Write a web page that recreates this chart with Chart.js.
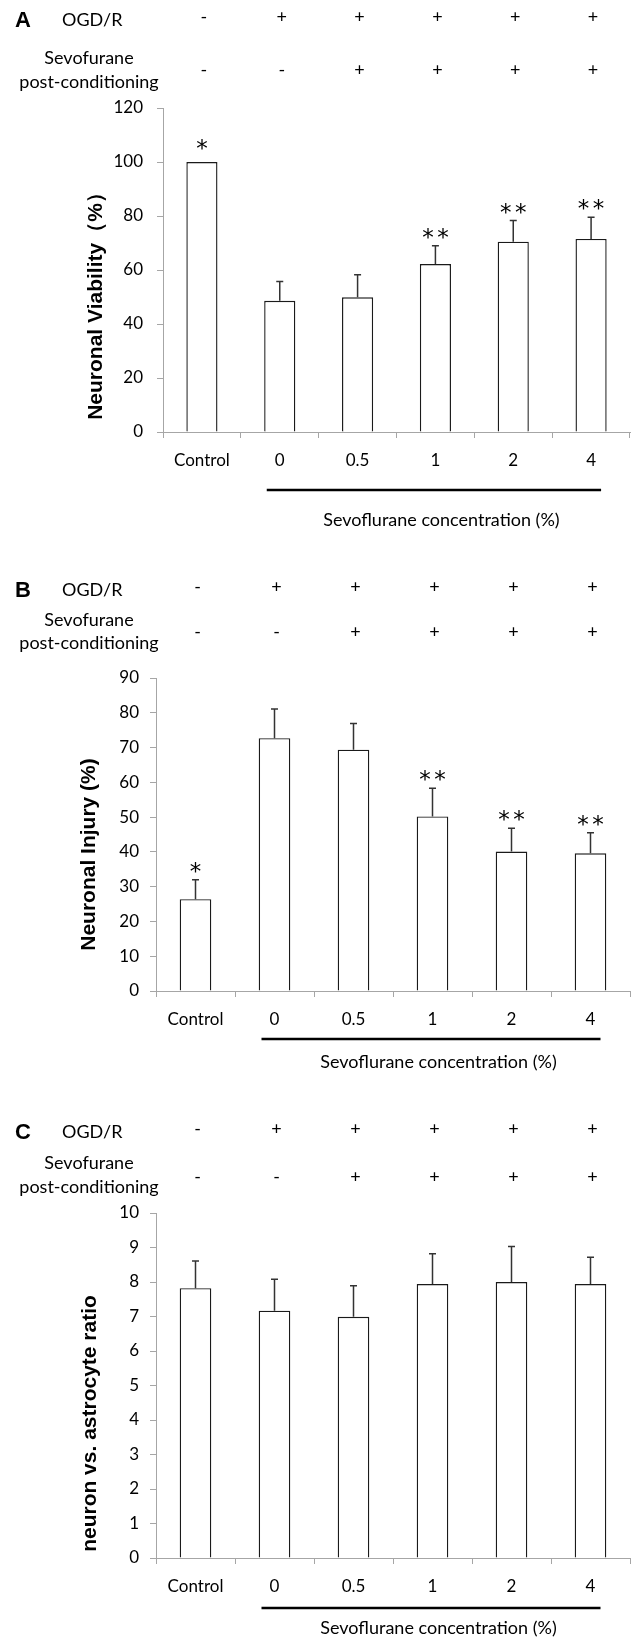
<!DOCTYPE html>
<html>
<head>
<meta charset="utf-8">
<script src="https://cdn.jsdelivr.net/npm/chart.js@4.4.0/dist/chart.umd.min.js"></script>
<style>
  body { margin: 0; background: #fff; }
  #wrap { position: relative; width: 631px; height: 1637px; background: #fff; }
  canvas { position: absolute; left: 0; }
</style>
</head>
<body>
<div id="wrap">
  <canvas id="chartA" width="631" height="545" style="top:0px"></canvas>
  <canvas id="chartB" width="631" height="540" style="top:545px"></canvas>
  <canvas id="chartC" width="631" height="552" style="top:1085px"></canvas>
</div>
<script>
// data
const categories = ['Control', '0', '0.5', '1', '2', '4'];
const ogdSigns = ['-', '+', '+', '+', '+', '+'];
const postSigns = ['-', '-', '+', '+', '+', '+'];

const viabilityMean = [100, 48.6, 49.9, 62.2, 70.5, 71.5];
const viabilityErr = [0, 7.1, 8.3, 6.8, 7.8, 8.0];
const viabilityStars = ['*', '', '', '**', '**', '**'];
const viabilityTicks = [0, 120, 20]; // min, max, step

const injuryMean = [26.4, 72.7, 69.4, 50.2, 40.1, 39.6];
const injuryErr = [5.6, 8.4, 7.5, 8.1, 6.7, 5.9];
const injuryStars = ['*', '', '', '**', '**', '**'];
const injuryTicks = [0, 90, 10];

const ratioMean = [7.82, 7.17, 6.99, 7.94, 8.0, 7.94];
const ratioErr = [0.79, 0.91, 0.90, 0.88, 1.03, 0.78];
const ratioStars = ['', '', '', '', '', ''];
const ratioTicks = [0, 10, 1];

const LABEL_FONT = 'Lato, "Open Sans", sans-serif';
const BOLD_FONT = '"Liberation Sans", Arial, sans-serif';
const AXIS_GREY = '#a6a6a6';

// header rows, error bars, stars, bracket line and y title
const panelDeco = {
    id: 'panelDeco',
    afterDatasetsDraw(chart, args, opts) {
        const ctx = chart.ctx;
        const y = chart.scales.y;
        const meta = chart.getDatasetMeta(0);
        ctx.save();
        ctx.strokeStyle = '#333';
        ctx.lineWidth = 1.5;
        opts.err.forEach((e, i) => {
            if (!e) return;
            const bar = meta.data[i];
            const top = y.getPixelForValue(opts.mean[i] + e);
            ctx.beginPath();
            ctx.moveTo(bar.x, bar.y);
            ctx.lineTo(bar.x, top);
            ctx.moveTo(bar.x - 3.5, top);
            ctx.lineTo(bar.x + 3.5, top);
            ctx.stroke();
        });
        // significance stars
        ctx.fillStyle = '#000';
        ctx.font = '23px "DejaVu Sans", sans-serif';
        ctx.textAlign = 'center';
        ctx.textBaseline = 'alphabetic';
        opts.stars.forEach((s, i) => {
            if (!s) return;
            const bar = meta.data[i];
            const top = y.getPixelForValue(opts.mean[i] + opts.err[i]);
            const cy = top - (opts.err[i] ? 14 : 19);
            const n = s.length;
            for (let k = 0; k < n; k++) {
                ctx.fillText('*', bar.x + (k - (n - 1) / 2) * 15, cy + 13);
            }
        });
        ctx.restore();
    },
    afterDraw(chart, args, opts) {
        const ctx = chart.ctx;
        const meta = chart.getDatasetMeta(0);
        ctx.save();
        ctx.fillStyle = '#000';
        ctx.textBaseline = 'middle';

        // panel letter
        ctx.font = 'bold 22px ' + BOLD_FONT;
        ctx.textAlign = 'left';
        ctx.fillText(opts.letter, 15, opts.rowA + 4);

        ctx.font = '18px ' + LABEL_FONT;
        ctx.fillText('OGD/R', 62, opts.rowA + 3);
        ctx.textAlign = 'center';
        ctx.fillText('Sevofurane', 89, opts.sevoY);
        ctx.fillText('post-conditioning', 89, opts.postY);

        ogdSigns.forEach((s, i) => ctx.fillText(s, meta.data[i].x + 2, opts.rowA));
        postSigns.forEach((s, i) => ctx.fillText(s, meta.data[i].x + 2, opts.rowB));

        // bracket under the sevoflurane groups
        const x0 = meta.data[1].x - 13;
        const x1 = meta.data[5].x + 10;
        ctx.strokeStyle = '#000';
        ctx.lineWidth = 2.5;
        ctx.beginPath();
        ctx.moveTo(x0, opts.lineY);
        ctx.lineTo(x1, opts.lineY);
        ctx.stroke();
        ctx.fillText('Sevoflurane concentration (%)', (meta.data[1].x + meta.data[5].x) / 2 + 6, opts.textY);

        // y axis title
        const area = chart.chartArea;
        ctx.translate(opts.titleX, (area.top + area.bottom) / 2 + opts.titleDy);
        ctx.rotate(-Math.PI / 2);
        ctx.font = 'bold 21px ' + BOLD_FONT;
        ctx.fillText(opts.title, 0, 0);
        ctx.restore();
    }
};

function makeChart(id, mean, err, stars, ticks, cfg) {
    const canvas = document.getElementById(id);
    return new Chart(canvas, {
        type: 'bar',
        data: {
            labels: categories,
            datasets: [{
                data: mean,
                backgroundColor: '#ffffff',
                borderColor: '#1a1a1a',
                borderWidth: 1.4,
                categoryPercentage: 1.0,
                barPercentage: 0.4
            }]
        },
        options: {
            responsive: false,
            animation: false,
            devicePixelRatio: 1,
            layout: {
                padding: { top: cfg.top, right: 1, left: 0, bottom: canvas.height - cfg.bottom - 40 }
            },
            scales: {
                x: {
                    grid: { display: true, drawOnChartArea: false, drawTicks: true, tickLength: 6, color: AXIS_GREY, offset: true },
                    border: { display: true, color: AXIS_GREY, width: 1 },
                    ticks: { color: '#000', font: { family: LABEL_FONT, size: 17 }, padding: 12, maxRotation: 0 },
                    afterFit: (s) => { s.height = 40; }
                },
                y: {
                    min: ticks[0],
                    max: ticks[1],
                    grid: { display: true, drawOnChartArea: false, drawTicks: true, tickLength: 6, color: AXIS_GREY },
                    border: { display: true, color: AXIS_GREY, width: 1 },
                    ticks: { stepSize: ticks[2], color: '#000', font: { family: LABEL_FONT, size: 17 }, padding: cfg.tickPad },
                    afterFit: (s) => { s.width = cfg.left; }
                }
            },
            plugins: {
                legend: { display: false },
                tooltip: { enabled: false },
                panelDeco: Object.assign({ mean: mean, err: err, stars: stars }, cfg)
            }
        },
        plugins: [panelDeco]
    });
}

makeChart('chartA', viabilityMean, viabilityErr, viabilityStars, viabilityTicks, {
    letter: 'A', title: 'Neuronal Viability（%）',
    top: 108, bottom: 432, left: 163, tickPad: 14,
    rowA: 17, rowB: 70, sevoY: 58, postY: 82,
    lineY: 490, textY: 520, titleX: 96, titleDy: 31
});

makeChart('chartB', injuryMean, injuryErr, injuryStars, injuryTicks, {
    letter: 'B', title: 'Neuronal Injury (%)',
    top: 133, bottom: 446, left: 156, tickPad: 11,
    rowA: 42, rowB: 87, sevoY: 75, postY: 98,
    lineY: 494, textY: 517, titleX: 89, titleDy: 20
});

makeChart('chartC', ratioMean, ratioErr, ratioStars, ratioTicks, {
    letter: 'C', title: 'neuron vs. astrocyte ratio',
    top: 128, bottom: 473, left: 156, tickPad: 11,
    rowA: 44, rowB: 92, sevoY: 78, postY: 102,
    lineY: 523, textY: 543, titleX: 90, titleDy: 38
});
</script>
</body>
</html>
